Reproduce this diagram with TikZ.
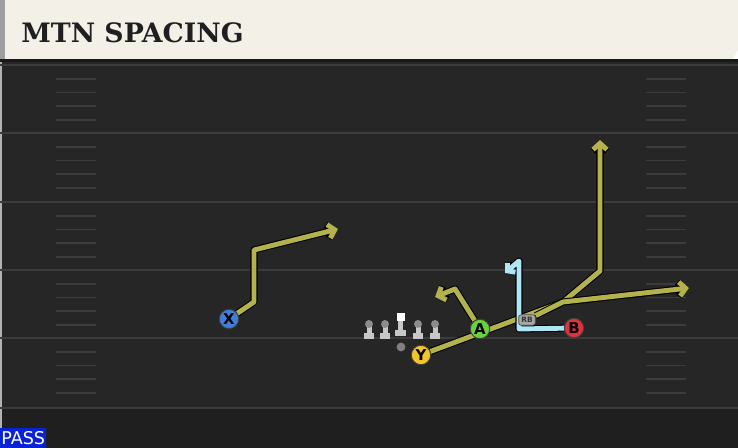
\documentclass[tikz,border=0pt]{standalone}
\usepackage{fontspec}
\setmainfont{DejaVu Sans}
\newfontfamily\titlefont{DejaVu Serif}
\usetikzlibrary{arrows.meta}

\definecolor{banner}{HTML}{F3F0E8}
\definecolor{turf}{HTML}{262626}
\definecolor{turfend}{HTML}{1F1F1F}
\definecolor{yardline}{HTML}{3B3B3B}
\definecolor{routeyellow}{HTML}{B4B24E}
\definecolor{routeblue}{HTML}{AEE6F5}
\definecolor{xblue}{HTML}{3F7FDB}
\definecolor{yyellow}{HTML}{F2C42B}
\definecolor{agreen}{HTML}{66D33A}
\definecolor{bred}{HTML}{E0323E}
\definecolor{passblue}{HTML}{0A22D6}

\pgfdeclarelayer{field}
\pgfdeclarelayer{routes}
\pgfsetlayers{field,routes,main}

\tikzset{
  route/.style={line width=2.8pt, draw=routeyellow, line join=round,
    preaction={draw=black, line width=4pt, line join=round}},
  arrowroute/.style={route, -{Straight Barb[length=3.6pt,width=8pt]}},
  player/.style={circle, minimum size=11pt, inner sep=0pt, draw=black!75,
    line width=0.5pt, font=\bfseries\fontsize{8.5}{8.5}\selectfont},
  rbtag/.style={rounded corners=1.5pt, fill=black!35, draw=black!70,
    line width=0.4pt, minimum width=9.5pt, minimum height=6pt, inner sep=0pt,
    font=\bfseries\fontsize{4.2}{4.2}\selectfont, text=black!80},
  lineman/.style={fill=black!22},
}

\begin{document}
\begin{tikzpicture}[x=0.02cm, y=-0.02cm]
  \useasboundingbox (0,0) rectangle (738,448);

  \begin{pgfonlayer}{field}
    % Γήπεδο
    \fill[turf] (0,59) rectangle (738,448);
    \fill[turfend] (0,408) rectangle (738,448);
    \fill[black!90] (0,59) rectangle (738,62);
    \fill[black!30] (0,62) rectangle (2,448);
    \foreach \y in {65,133,202,270,338,408}
      \draw[yardline, line width=1.2pt] (0,\y) -- (738,\y);
    \foreach \y in {65,133,202,270,338}
      \foreach \k in {1,...,4} {
        \draw[yardline, line width=1pt] (56,\y+13.7*\k) -- (96,\y+13.7*\k);
        \draw[yardline, line width=1pt] (646,\y+13.7*\k) -- (686,\y+13.7*\k);
      }

    % Τίτλος
    \fill[banner] (0,0) -- (738,0) -- (738,50) -- (733,59) -- (0,59) -- cycle;
    \fill[black!38] (0,0) rectangle (5,59);
  \end{pgfonlayer}

  \node[anchor=base west, inner sep=0pt, text=black!88,
    font=\titlefont\bfseries\fontsize{15.2}{15.2}\selectfont] (title) at (21,43) {MTN SPACING};

  % Παίκτες
  \node[player, fill=xblue] (X) at (229,319) {X};
  \node[player, fill=yyellow] (Y) at (421,355) {Y};
  \node[player, fill=agreen] (A) at (480,329) {A};
  \node[player, fill=bred] (B) at (574,328) {B};
  \node[rbtag] (RB) at (527,320) {RB};
  \node[circle, fill=black!50, minimum size=5pt, inner sep=0pt] (ball) at (401,347) {};

  % Γραμμή
  \foreach \x in {369,385,418,435} {
    \fill[lineman] (\x-5,333) rectangle (\x+5,339);
    \fill[lineman] (\x-2.5,324) rectangle (\x+2.5,334);
    \fill[black!45] (\x,324) circle (4);
  }
  \fill[lineman] (395,330) rectangle (406,336);
  \fill[lineman] (398,320) rectangle (403,331);
  \fill[white] (396.5,313) rectangle (404.5,321);

  \coordinate (split) at (563,302);

  \begin{pgfonlayer}{routes}
    \draw[arrowroute] (X) -- (254,302) -- (254,250) -- (338,229);
    \draw[arrowroute] (Y) -- (split) -- (600,271) -- (600,140);
    \draw[arrowroute] (RB) -- (split) -- (689,288);
    \draw[arrowroute] (A) -- (455,289) -- (435,297);
    \draw[route, draw=routeblue, -{Straight Barb[length=3pt,width=7pt]}]
      (B) -- (519,329) -- (519,261) -- (505,273);
  \end{pgfonlayer}

  \node[anchor=south west, fill=passblue, text=white, inner sep=0pt,
    minimum width=26pt, minimum height=11.3pt,
    font=\fontsize{10}{10}\selectfont] (pass) at (0,448) {PASS};
\end{tikzpicture}
\end{document}
